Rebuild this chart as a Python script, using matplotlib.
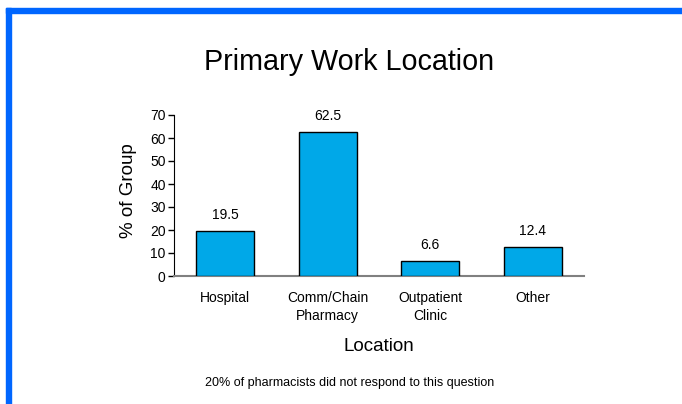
import matplotlib.pyplot as plt
from matplotlib.patches import Rectangle

# data
categories = ["Hospital", "Comm/Chain\nPharmacy", "Outpatient\nClinic", "Other"]
values = [19.5, 62.5, 6.6, 12.4]
yticks = [0, 10, 20, 30, 40, 50, 60, 70]

plt.rcParams['font.family'] = ['Liberation Sans', 'DejaVu Sans']

W, H = 682, 404
fig = plt.figure(figsize=(W / 100, H / 100), dpi=100)

# blue frame (top and left)
blue = "#0066ff"
fig.patches.append(Rectangle((6 / W, 1 - 13 / H), 1, 5 / H, transform=fig.transFigure,
                             color=blue, zorder=0))
fig.patches.append(Rectangle((6 / W, 0), 5 / W, 1 - 8 / H, transform=fig.transFigure,
                             color=blue, zorder=0))

ax = fig.add_axes([174 / W, (H - 276) / H, 410 / W, 161 / H])
x = range(len(categories))
bars = ax.bar(x, values, width=0.565, color="#00a8e8", edgecolor="black", linewidth=1, zorder=3)
for xi, v in zip(x, values):
    ax.text(xi, v + 4, f"{v}", ha="center", va="bottom", fontsize=10)

ax.set_xlim(-0.5, 3.5)
ax.set_ylim(0, 70)
ax.set_yticks(yticks)
ax.set_xticks(list(x))
ax.set_xticklabels(categories, fontsize=10, linespacing=1.35)
ax.tick_params(axis='x', length=0, pad=11)
ax.tick_params(axis='y', length=4, width=1, labelsize=10, pad=2)

for s in ("top", "right"):
    ax.spines[s].set_visible(False)
ax.spines["bottom"].set_color("#808080")
ax.spines["bottom"].set_linewidth(1.5)
ax.spines["left"].set_color("black")

ax.set_ylabel("% of Group", fontsize=13.5)
ax.yaxis.set_label_coords(-0.09, 0.53)
ax.set_xlabel("Location", fontsize=13.5, labelpad=11)

fig.text(349 / W, 1 - 62 / H, "Primary Work Location", ha="center", va="center", fontsize=20.7)
fig.text(350 / W, 1 - 383 / H, "20% of pharmacists did not respond to this question",
         ha="center", va="center", fontsize=9)

fig.savefig("out.png", dpi=100)
